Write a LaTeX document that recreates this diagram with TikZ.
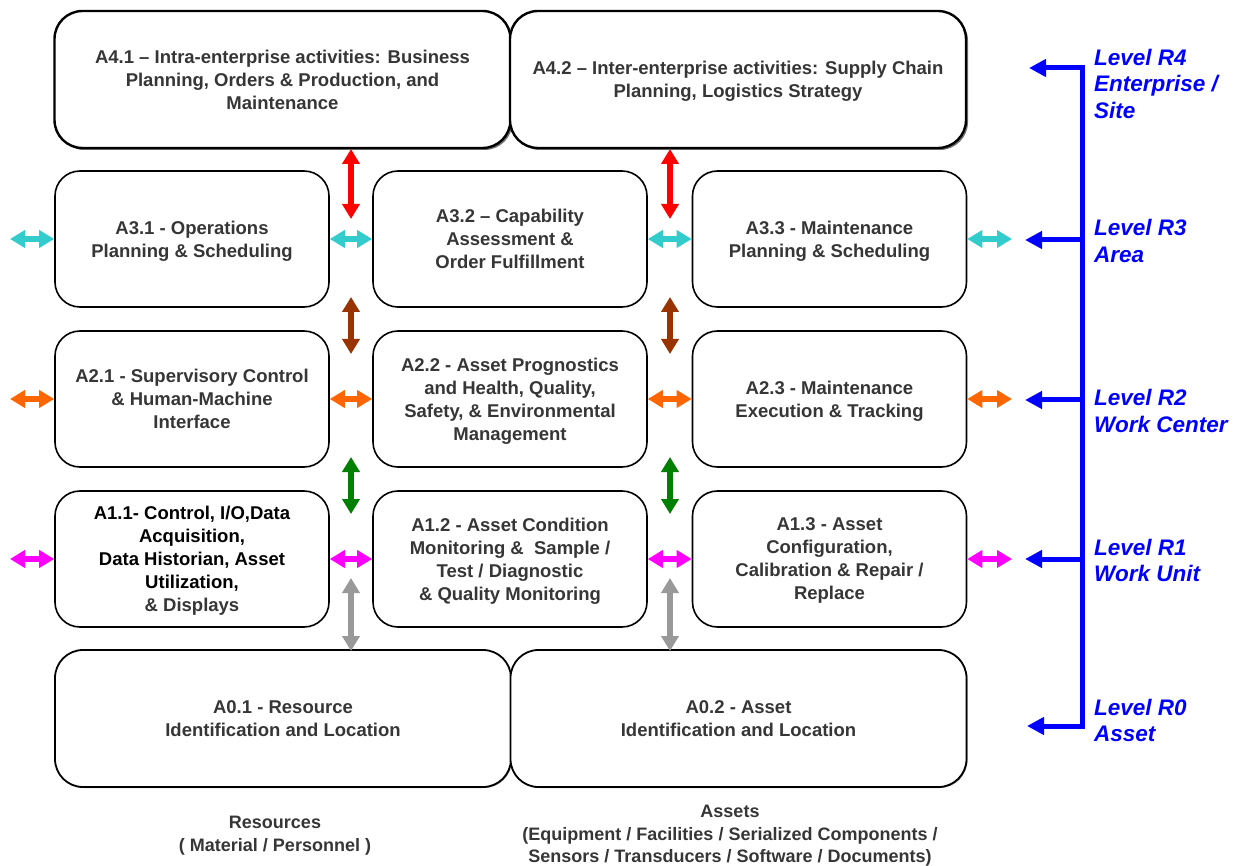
\documentclass[tikz,border=0pt]{standalone}
\usepackage{fontspec}
\setmainfont{Liberation Sans}
\usetikzlibrary{arrows.meta,shadows}
\definecolor{txt}{HTML}{363636}
\definecolor{cyanarr}{HTML}{33CCCC}
\definecolor{brownarr}{HTML}{993300}
\definecolor{orangearr}{HTML}{FF6600}
\definecolor{greenarr}{HTML}{008000}
\definecolor{magarr}{HTML}{FF00FF}
\definecolor{grayarr}{HTML}{999999}
\definecolor{lvlblue}{HTML}{0000FF}
\begin{document}
\begin{tikzpicture}[x=1pt,y=-1pt,
  % a fixed (negative) depth for the last line lowers the text block a little
  boxtext/.style={align=center, text=txt, font=\bfseries\fontsize{18.5}{23}\selectfont, inner sep=0pt,
    text depth=-3.3pt},
  lower/.style={text depth=#1},
  box/.style={boxtext, draw=black, fill=white, line width=1.6pt, rounded corners=25pt,
    minimum width=274pt, minimum height=136pt},
  wide/.style={boxtext, draw=black, fill=white, rounded corners=28pt,
    minimum width=456pt, minimum height=137pt},
  topbox/.style={wide, line width=2.4pt,
    drop shadow={shadow xshift=2pt, shadow yshift=-2pt, fill=black!55, opacity=1}},
  basebox/.style={wide, line width=1.8pt,
    drop shadow={shadow xshift=1pt, shadow yshift=-1pt, fill=black!45, opacity=1}},
  link/.style={line width=6pt, {Triangle[width=17pt,length=15pt]}-{Triangle[width=17pt,length=15pt]}},
  level/.style={anchor=west, align=left, text=lvlblue, inner sep=0pt,
    font=\bfseries\itshape\fontsize{22.5}{26.5}\selectfont},
  branch/.style={lvlblue, line width=5pt, -{Triangle[width=17pt,length=17pt]}},
  caption/.style={align=center, text=txt, inner sep=0pt, font=\bfseries\fontsize{18}{22.5}\selectfont}
]
\useasboundingbox (0,0) rectangle (1240,866);

% enterprise layer
\node[topbox, lower=-6.5pt] (a41) at (282.5,79.5) {A4.1 -- Intra-enterprise activities: Business\\Planning, Orders \& Production, and\\Maintenance};
\node[topbox, lower=-9pt] (a42) at (738,79.5) {A4.2 -- Inter-enterprise activities: Supply Chain\\Planning, Logistics Strategy};

% area layer
\node[box] (a31) at (192,239) {A3.1 - Operations\\Planning \& Scheduling};
\node[box] (a32) at (510,239) {A3.2 -- Capability\\Assessment \&\\Order Fulfillment};
\node[box] (a33) at (829.5,239) {A3.3 - Maintenance\\Planning \& Scheduling};

% work center layer
\node[box, lower=-7pt] (a21) at (192,399) {A2.1 - Supervisory Control\\\& Human-Machine\\Interface};
\node[box] (a22) at (510,399) {A2.2 - Asset Prognostics\\and Health, Quality,\\Safety, \& Environmental\\Management};
\node[box] (a23) at (829.5,399) {A2.3 - Maintenance\\Execution \& Tracking};

% work unit layer
\node[box, text=black] (a11) at (192,559) {A1.1- Control, I/O,Data\\Acquisition,\\Data Historian, Asset\\Utilization,\\\textcolor{txt}{\& Displays}};
\node[box] (a12) at (510,559) {A1.2 - Asset Condition\\Monitoring \&\ \ Sample /\\Test / Diagnostic\\\& Quality Monitoring};
\node[box] (a13) at (829.5,559) {A1.3 - Asset\\Configuration,\\Calibration \& Repair /\\Replace};

% asset layer
\node[basebox, lower=-7pt] (a01) at (283,718.5) {A0.1 - Resource\\Identification and Location};
\node[basebox, lower=-7pt] (a02) at (738.5,718.5) {A0.2 - Asset\\Identification and Location};

% captions under the asset layer
\node[caption] (res) at (275,835.5) {Resources\\( Material / Personnel )};
\node[caption] (ast) at (730,836) {Assets\\(Equipment / Facilities / Serialized Components /\\Sensors / Transducers / Software / Documents)};

% vertical exchanges between layers
\foreach \cx [count=\i] in {351,670} {
  \coordinate (rt\i) at (\cx,149);  \coordinate (rb\i) at (\cx,219);
  \coordinate (bt\i) at (\cx,297);  \coordinate (bb\i) at (\cx,354);
  \coordinate (gt\i) at (\cx,457);  \coordinate (gb\i) at (\cx,514);
  \coordinate (yt\i) at (\cx,578);  \coordinate (yb\i) at (\cx,651);
  \draw[link, red] (rt\i) -- (rb\i);
  \draw[link, brownarr] (bt\i) -- (bb\i);
  \draw[link, greenarr] (gt\i) -- (gb\i);
  \draw[link, grayarr] (yt\i) -- (yb\i);
}

% horizontal exchanges within each layer
\coordinate (lo3) at (10,239);   \coordinate (ro3) at (1012,239);
\coordinate (lo2) at (10,399);   \coordinate (ro2) at (1012,399);
\coordinate (lo1) at (10,559);   \coordinate (ro1) at (1012,559);
\draw[link, cyanarr] (lo3) -- (a31.west);
\draw[link, cyanarr] (a31.east) -- (a32.west);
\draw[link, cyanarr] (a32.east) -- (a33.west);
\draw[link, cyanarr] (a33.east) -- (ro3);
\draw[link, orangearr] (lo2) -- (a21.west);
\draw[link, orangearr] (a21.east) -- (a22.west);
\draw[link, orangearr] (a22.east) -- (a23.west);
\draw[link, orangearr] (a23.east) -- (ro2);
\draw[link, magarr] (lo1) -- (a11.west);
\draw[link, magarr] (a11.east) -- (a12.west);
\draw[link, magarr] (a12.east) -- (a13.west);
\draw[link, magarr] (a13.east) -- (ro1);

% level bar
\coordinate (bar4) at (1082,68);
\coordinate (bar3) at (1082,240);
\coordinate (bar2) at (1082,400);
\coordinate (bar1) at (1082,559);
\coordinate (bar0) at (1082,726);
\coordinate (tip4) at (1029,68);
\coordinate (tip3) at (1025,240);
\coordinate (tip2) at (1025,400);
\coordinate (tip1) at (1025,559);
\coordinate (tip0) at (1027,726);
\draw[lvlblue, line width=5pt] ([yshift=2.5pt]bar4) -- ([yshift=-2.5pt]bar0);
\foreach \k in {0,...,4} { \draw[branch] (bar\k) -- (tip\k); }

\node[level] (lv4) at (1094,83.5) {Level R4\\Enterprise /\\Site};
\node[level] (lv3) at (1094,241) {Level R3\\Area};
\node[level] (lv2) at (1094,411) {Level R2\\Work Center};
\node[level] (lv1) at (1094,560.5) {Level R1\\Work Unit};
\node[level] (lv0) at (1094,720.5) {Level R0\\Asset};
\end{tikzpicture}
\end{document}
